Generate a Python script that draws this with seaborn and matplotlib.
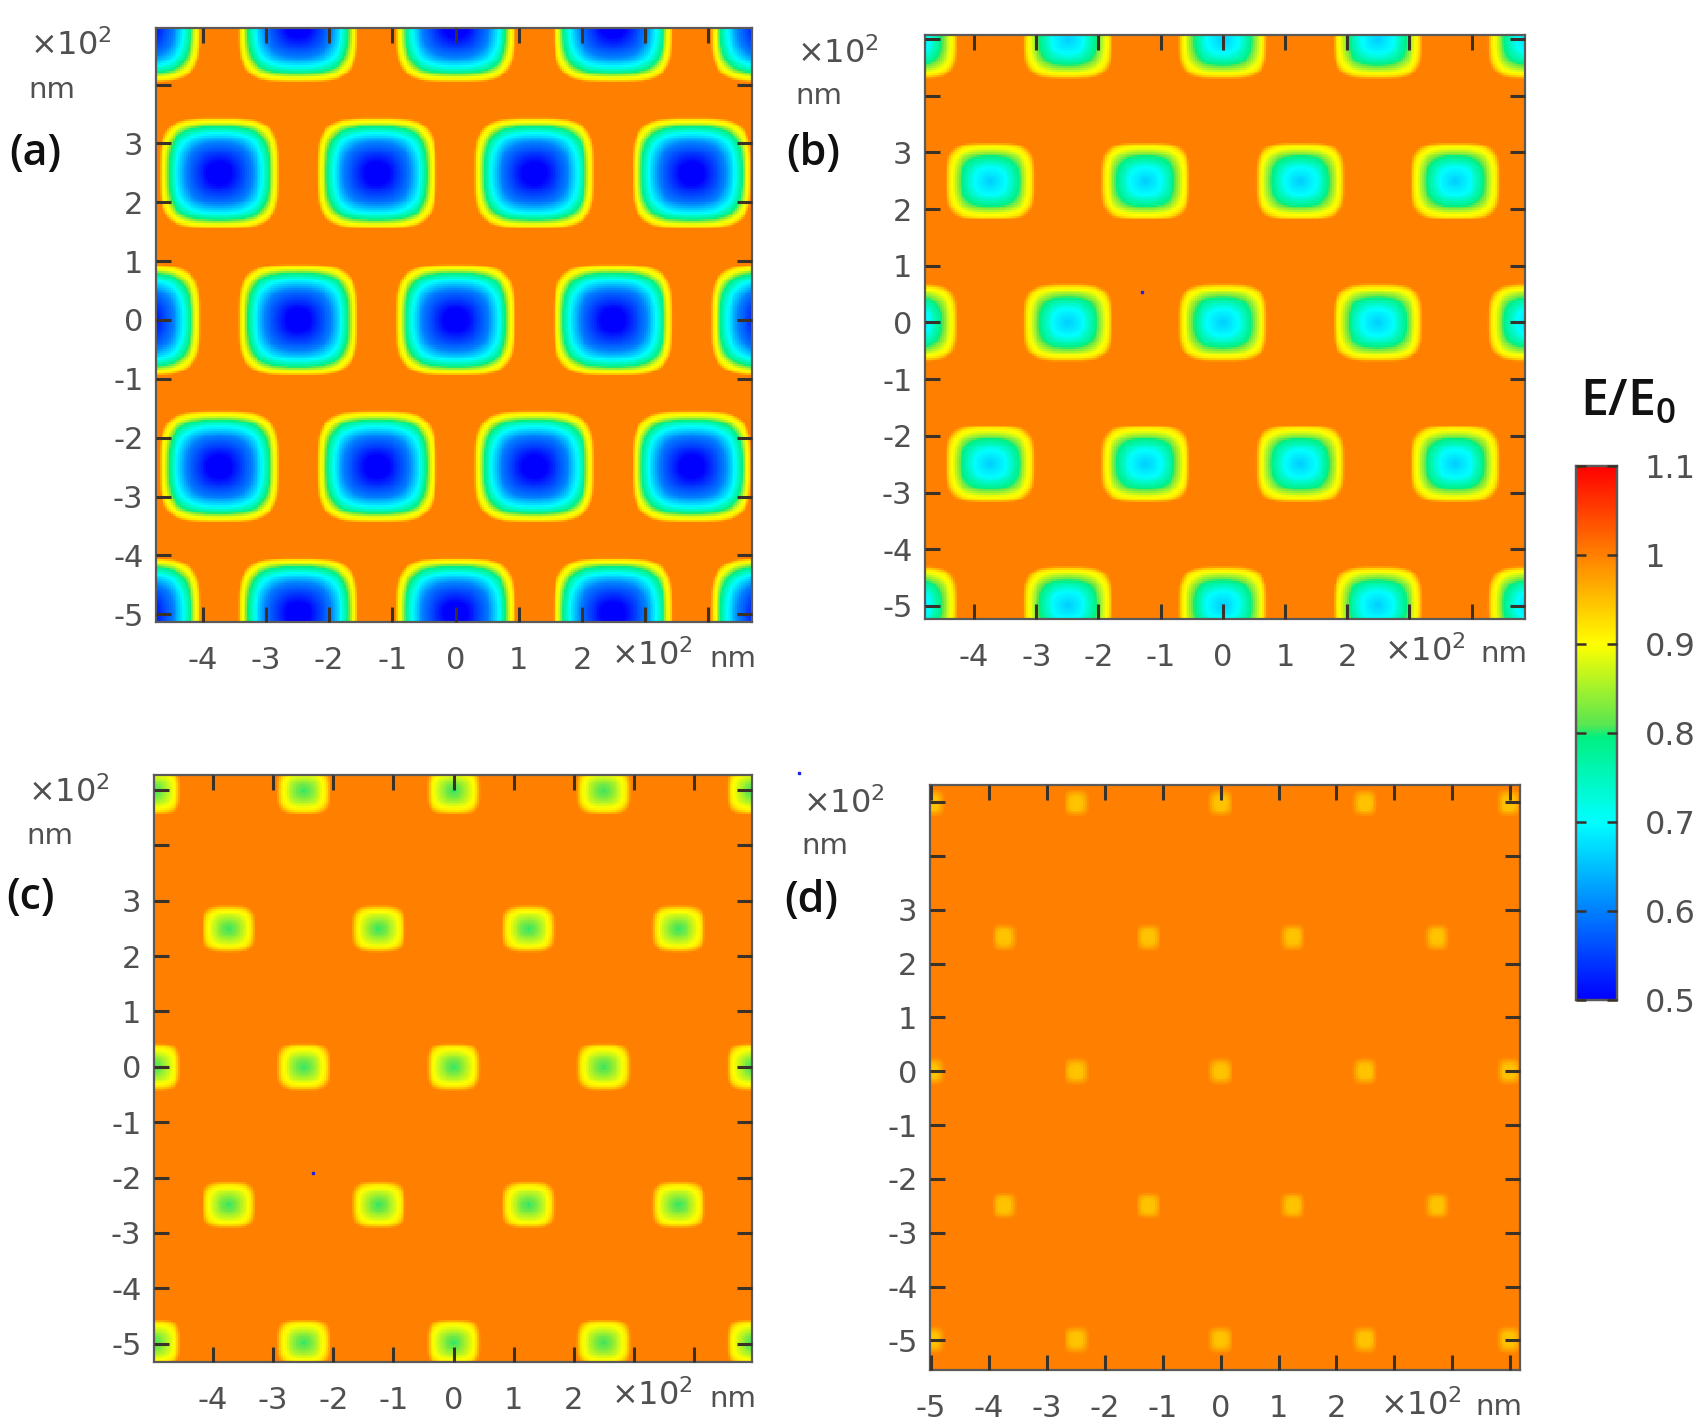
"""Four E/E0 field maps over a staggered hole lattice, with a shared colour bar."""

import matplotlib

matplotlib.use("Agg")
import matplotlib.pyplot as plt  # noqa: E402
import numpy as np  # noqa: E402
import seaborn as sns  # noqa: E402
from matplotlib.colors import LinearSegmentedColormap  # noqa: E402

W, H = 1700, 1422

# hole lattice, units of 100 nm
ROW_Y_EVEN = [-5.0, 0.0, 5.0]
ROW_X_EVEN = [-5.0, -2.5, 0.0, 2.5, 5.0]
ROW_Y_ODD = [-2.5, 2.5]
ROW_X_ODD = [-3.75, -1.25, 1.25, 3.75]

# E/E0 read across one hole, r = 0 centre, r = 1 outer edge of the yellow ring
PROFILE_R_A = [0.0, 0.2, 0.55, 0.72, 0.84, 0.91, 0.96, 1.0]
PROFILE_E_A = [0.5, 0.5, 0.6, 0.7, 0.8, 0.89, 0.92, 1.0]
PROFILE_R_B = [0.0, 0.35, 0.65, 0.83, 0.92, 1.0]
PROFILE_E_B = [0.66, 0.7, 0.8, 0.89, 0.92, 1.0]
PROFILE_R_C = [0.0, 0.25, 0.62, 0.84, 1.0]
PROFILE_E_C = [0.8, 0.82, 0.88, 0.92, 1.0]
PROFILE_R_D = [0.0, 0.5, 1.0]
PROFILE_E_D = [0.945, 0.95, 1.0]

# hole half widths (x, y)
HALF_A = (0.95, 0.95)
HALF_B = (0.72, 0.69)
HALF_C = (0.45, 0.43)
HALF_D = (0.22, 0.26)

XLIM_A, YLIM_A = (-4.74, 4.69), (-5.13, 4.96)
XLIM_B, YLIM_B = (-4.79, 4.86), (-5.23, 5.07)
XLIM_C, YLIM_C = (-4.98, 4.96), (-5.33, 5.27)
XLIM_D, YLIM_D = (-5.02, 5.17), (-5.55, 5.32)

XTICKS = [-4, -3, -2, -1, 0, 1, 2, 3, 4]
XTICKS_D = [-5, -4, -3, -2, -1, 0, 1, 2, 3, 4, 5]
YTICKS = [-5, -4, -3, -2, -1, 0, 1, 2, 3, 4, 5]
LABELLED_X = [-5, -4, -3, -2, -1, 0, 1, 2]
LABELLED_X_ABC = [-4, -3, -2, -1, 0, 1, 2]
LABELLED_Y = [-5, -4, -3, -2, -1, 0, 1, 2, 3]

# stray dots in the source image
STRAY_B = (-1.3, 0.54)
STRAY_C = (-2.34, -1.91)
STRAY_D = (-7.29, 5.55)

CBAR_TICKS = [0.5, 0.6, 0.7, 0.8, 0.9, 1.0, 1.1]
CBAR_LABELS = ["0.5", "0.6", "0.7", "0.8", "0.9", "1", "1.1"]
CMAP_STOPS = [0.5, 0.7, 0.795, 0.81, 0.9, 1.0, 1.1]
CMAP_COLOURS = ["#0000ff", "#00ffff", "#00f082", "#5ae650", "#ffff00", "#ff8000", "#ff0000"]

GREY = "#505050"
TICK_DARK = "#3a3228"


def px_axes(fig, left, top, right, bottom):
    return fig.add_axes([left / W, 1 - bottom / H, (right - left) / W, (bottom - top) / H])


def field(xlim, ylim, half, prof_r, prof_e, n=320):
    xs = np.linspace(xlim[0], xlim[1], n)
    ys = np.linspace(ylim[1], ylim[0], n)  # row 0 is the top of the heatmap
    gx, gy = np.meshgrid(xs, ys)
    out = np.ones_like(gx)
    for row_y, row_x in [(ROW_Y_EVEN, ROW_X_EVEN), (ROW_Y_ODD, ROW_X_ODD)]:
        for cy in row_y:
            for cx in row_x:
                ax_, ay_ = np.abs((gx - cx) / half[0]), np.abs((gy - cy) / half[1])
                # contours are round at the centre and squarer towards the rim
                r_round = np.hypot(ax_, ay_)
                r_square = (ax_ ** 4 + ay_ ** 4) ** 0.25
                w = np.clip(r_square, 0, 1)
                r = r_round * (1 - w) + r_square * w
                out = np.minimum(out, np.interp(r, prof_r, prof_e, right=1.0))
    return out


def draw_panel(ax, xlim, ylim, half, prof_r, prof_e, xticks, labelled_x, cbar_ax=None, stray=None):
    data = field(xlim, ylim, half, prof_r, prof_e)
    ny, nx = data.shape
    sns.heatmap(data, ax=ax, cmap=CMAP, vmin=0.5, vmax=1.1, cbar=cbar_ax is not None,
                cbar_ax=cbar_ax, xticklabels=False, yticklabels=False)

    to_col = lambda v: (v - xlim[0]) / (xlim[1] - xlim[0]) * nx
    to_row = lambda v: (ylim[1] - v) / (ylim[1] - ylim[0]) * ny

    ticks_x = [t for t in xticks if xlim[0] < t < xlim[1]]
    ticks_y = [t for t in YTICKS if ylim[0] < t < ylim[1]]
    ax.set_axisbelow(False)
    ax.set_xticks([to_col(t) for t in ticks_x])
    ax.set_xticklabels([str(t) if t in labelled_x else "" for t in ticks_x])
    ax.set_yticks([to_row(t) for t in ticks_y])
    ax.set_yticklabels([str(t) if t in LABELLED_Y else "" for t in ticks_y], rotation=0)
    ax.tick_params(axis="both", which="both", direction="in", length=11, width=2.2,
                   color=TICK_DARK, top=True, right=True, left=True, bottom=True,
                   labelsize=22, labelcolor=GREY)
    ax.tick_params(axis="x", pad=17)
    ax.tick_params(axis="y", pad=9)
    for s in ax.spines.values():
        s.set_visible(True)
        s.set_color("#5a5a5a")
        s.set_linewidth(1.6)
    if stray is not None:
        ax.plot(to_col(stray[0]), to_row(stray[1]), "s", ms=2, color="#2020e0", clip_on=False)


def note(fig, x, y, text, **kw):
    fig.text(x / W, 1 - y / H, text, ha="center", va="center", **kw)


sns.set_theme(style="white")
plt.rcParams["font.family"] = ["DejaVu Sans"]
plt.rcParams["mathtext.default"] = "regular"

_span = CMAP_STOPS[-1] - CMAP_STOPS[0]
CMAP = LinearSegmentedColormap.from_list(
    "rainbow_e", [((v - CMAP_STOPS[0]) / _span, c) for v, c in zip(CMAP_STOPS, CMAP_COLOURS)], N=512)

fig = plt.figure(figsize=(W / 100, H / 100), dpi=100, facecolor="white")

ax_a = px_axes(fig, 156, 28, 752, 622)
ax_b = px_axes(fig, 925, 35, 1525, 619)
ax_c = px_axes(fig, 154, 775, 752, 1362)
ax_d = px_axes(fig, 930, 785, 1520, 1370)
cax = px_axes(fig, 1576, 466, 1617, 1000)

draw_panel(ax_a, XLIM_A, YLIM_A, HALF_A, PROFILE_R_A, PROFILE_E_A, XTICKS, LABELLED_X_ABC, cbar_ax=cax)
draw_panel(ax_b, XLIM_B, YLIM_B, HALF_B, PROFILE_R_B, PROFILE_E_B, XTICKS, LABELLED_X_ABC, stray=STRAY_B)
draw_panel(ax_c, XLIM_C, YLIM_C, HALF_C, PROFILE_R_C, PROFILE_E_C, XTICKS, LABELLED_X_ABC, stray=STRAY_C)
draw_panel(ax_d, XLIM_D, YLIM_D, HALF_D, PROFILE_R_D, PROFILE_E_D, XTICKS_D, LABELLED_X, stray=STRAY_D)

# colour bar
cax.set_axisbelow(False)
cax.set_yticks(CBAR_TICKS)
cax.set_yticklabels(CBAR_LABELS)
cax.tick_params(axis="y", which="both", direction="in", length=7, width=1.8, color=TICK_DARK,
                left=True, right=True, labelleft=False, labelright=True,
                labelsize=23, labelcolor=GREY, pad=20)
for s in cax.spines.values():
    s.set_visible(True)
    s.set_color("#5a5a5a")
    s.set_linewidth(1.6)

# unit notes
for x1, y1, x2, y2 in [(71, 46, 52, 90), (838, 54, 819, 96), (69, 793, 50, 836), (844, 804, 825, 846)]:
    note(fig, x1, y1, r"×10$^{2}$", fontsize=23, color=GREY)
    note(fig, x2, y2, "nm", fontsize=21, color=GREY)
for x1, y1, x2, y2 in [(652, 656, 733, 659), (1425, 652, 1504, 654),
                       (652, 1396, 733, 1399), (1421, 1406, 1499, 1407)]:
    note(fig, x1, y1, r"×10$^{2}$", fontsize=23, color=GREY)
    note(fig, x2, y2, "nm", fontsize=21, color=GREY)

# panel letters
for x, y, letter in [(35, 154, "(a)"), (813, 154, "(b)"), (31, 898, "(c)"), (811, 900, "(d)")]:
    note(fig, x, y, letter, fontsize=31, color="#101010", family="Open Sans", weight="semibold")

note(fig, 1628, 402, r"E/E$_{0}$", fontsize=36, color="#111111", family="Open Sans", weight="semibold")

fig.savefig("out.png", dpi=100, facecolor="white")
plt.close(fig)
